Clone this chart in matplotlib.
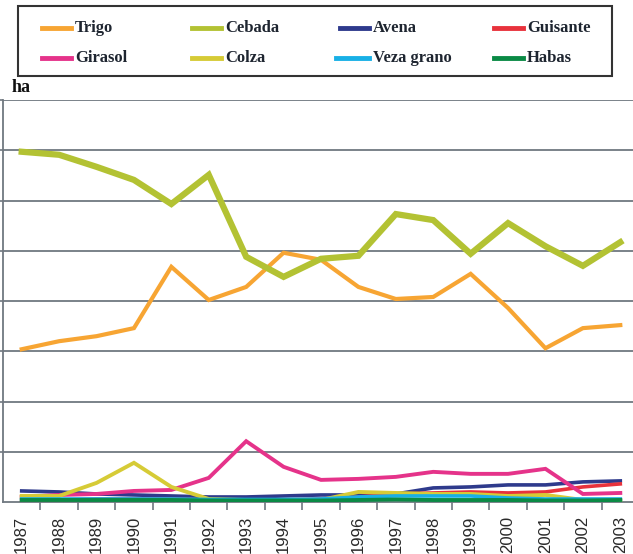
import matplotlib.pyplot as plt
from matplotlib.lines import Line2D

years = list(range(1987, 2004))

# values in grid units (one unit = one gridline step, no y labels on the chart)
trigo = [3.04, 3.20, 3.30, 3.46, 4.68, 4.02, 4.28, 4.96, 4.82, 4.28, 4.04, 4.08, 4.54, 3.86, 3.06, 3.46, 3.52]
cebada = [6.97, 6.91, 6.67, 6.41, 5.93, 6.51, 4.88, 4.48, 4.84, 4.90, 5.73, 5.61, 4.94, 5.55, 5.09, 4.70, 5.17]
avena = [0.22, 0.20, 0.16, 0.14, 0.12, 0.10, 0.10, 0.12, 0.14, 0.14, 0.16, 0.28, 0.30, 0.34, 0.34, 0.40, 0.42]
guisante = [0.02, 0.04, 0.06, 0.06, 0.06, 0.04, 0.04, 0.04, 0.06, 0.10, 0.16, 0.18, 0.20, 0.18, 0.20, 0.30, 0.36]
girasol = [0.10, 0.14, 0.16, 0.22, 0.24, 0.48, 1.21, 0.70, 0.44, 0.46, 0.50, 0.60, 0.56, 0.56, 0.66, 0.16, 0.18]
colza = [0.12, 0.12, 0.38, 0.78, 0.30, 0.06, 0.04, 0.04, 0.04, 0.20, 0.18, 0.16, 0.16, 0.12, 0.14, 0.04, 0.02]
veza = [0.06, 0.06, 0.06, 0.06, 0.06, 0.05, 0.05, 0.05, 0.06, 0.10, 0.12, 0.12, 0.12, 0.08, 0.06, 0.06, 0.06]
habas = [0.04, 0.04, 0.04, 0.04, 0.04, 0.03, 0.03, 0.03, 0.03, 0.04, 0.05, 0.04, 0.04, 0.04, 0.03, 0.03, 0.04]

names = ["Trigo", "Cebada", "Avena", "Guisante", "Girasol", "Colza", "Veza grano", "Habas"]
series = [trigo, cebada, avena, guisante, girasol, colza, veza, habas]
colors = ["#f7a533", "#b3c233", "#2e3a8c", "#e8323c", "#e5338a", "#d6cb36", "#18b0e6", "#0a8a45"]
widths = [3.0, 4.5, 2.6, 2.6, 2.8, 2.8, 2.6, 2.8]

fig = plt.figure(figsize=(6.33, 5.54), dpi=100)
ax = fig.add_axes([3 / 633, 1 - 502 / 554, 636 / 633, 402 / 554])

x = list(range(len(years)))
for s, c, w in zip(series, colors, widths):
    ax.plot(x, s, color=c, lw=w, solid_joinstyle="miter", zorder=3)

ax.set_xlim(-0.5, len(years) - 0.5)
ax.set_ylim(0, 8)
ax.set_yticks(range(1, 9))
ax.set_yticklabels([])
ax.tick_params(axis="y", length=3, color="#707880", width=1.2)
ax.grid(axis="y", color="#707880", lw=1.3, zorder=1)
ax.set_xticks(x)
ax.set_xticklabels(years, rotation=90, fontsize=12, family="Liberation Sans", color="#2a2a2a")
ax.set_xticks([i - 0.5 for i in range(1, len(years))], minor=True)
ax.tick_params(axis="x", which="major", length=0, pad=10)
ax.tick_params(axis="x", which="minor", length=6, color="#707880", width=1.2)
for side in ["top", "right"]:
    ax.spines[side].set_visible(False)
for side in ["left", "bottom"]:
    ax.spines[side].set_color("#707880")
    ax.spines[side].set_linewidth(1.3)

# legend box
fig.patches.append(plt.Rectangle((18 / 633, 1 - 76 / 554), 594 / 633, 70 / 554,
                                 transform=fig.transFigure, fill=False, ec="#333333", lw=1.5))
col_x = [42, 192, 340, 494]
row_y = [28, 58]
for i, (n, c) in enumerate(zip(names, colors)):
    cx = col_x[i % 4]
    cy = row_y[i // 4]
    hx0 = cx if n != "Veza grano" else cx - 4
    fig.lines.append(Line2D([hx0 / 633, (cx + 29) / 633], [1 - cy / 554, 1 - cy / 554],
                            transform=fig.transFigure, color=c, lw=3.5))
    fig.text((cx + 33) / 633, 1 - cy / 554, n, fontsize=12, family="Liberation Serif",
             weight="bold", va="center", ha="left", color="#1e2530")

fig.text(12 / 633, 1 - 87 / 554, "ha", fontsize=13, family="Liberation Serif",
         weight="bold", va="center", ha="left", color="#111111")

fig.savefig("out.png", dpi=100)
